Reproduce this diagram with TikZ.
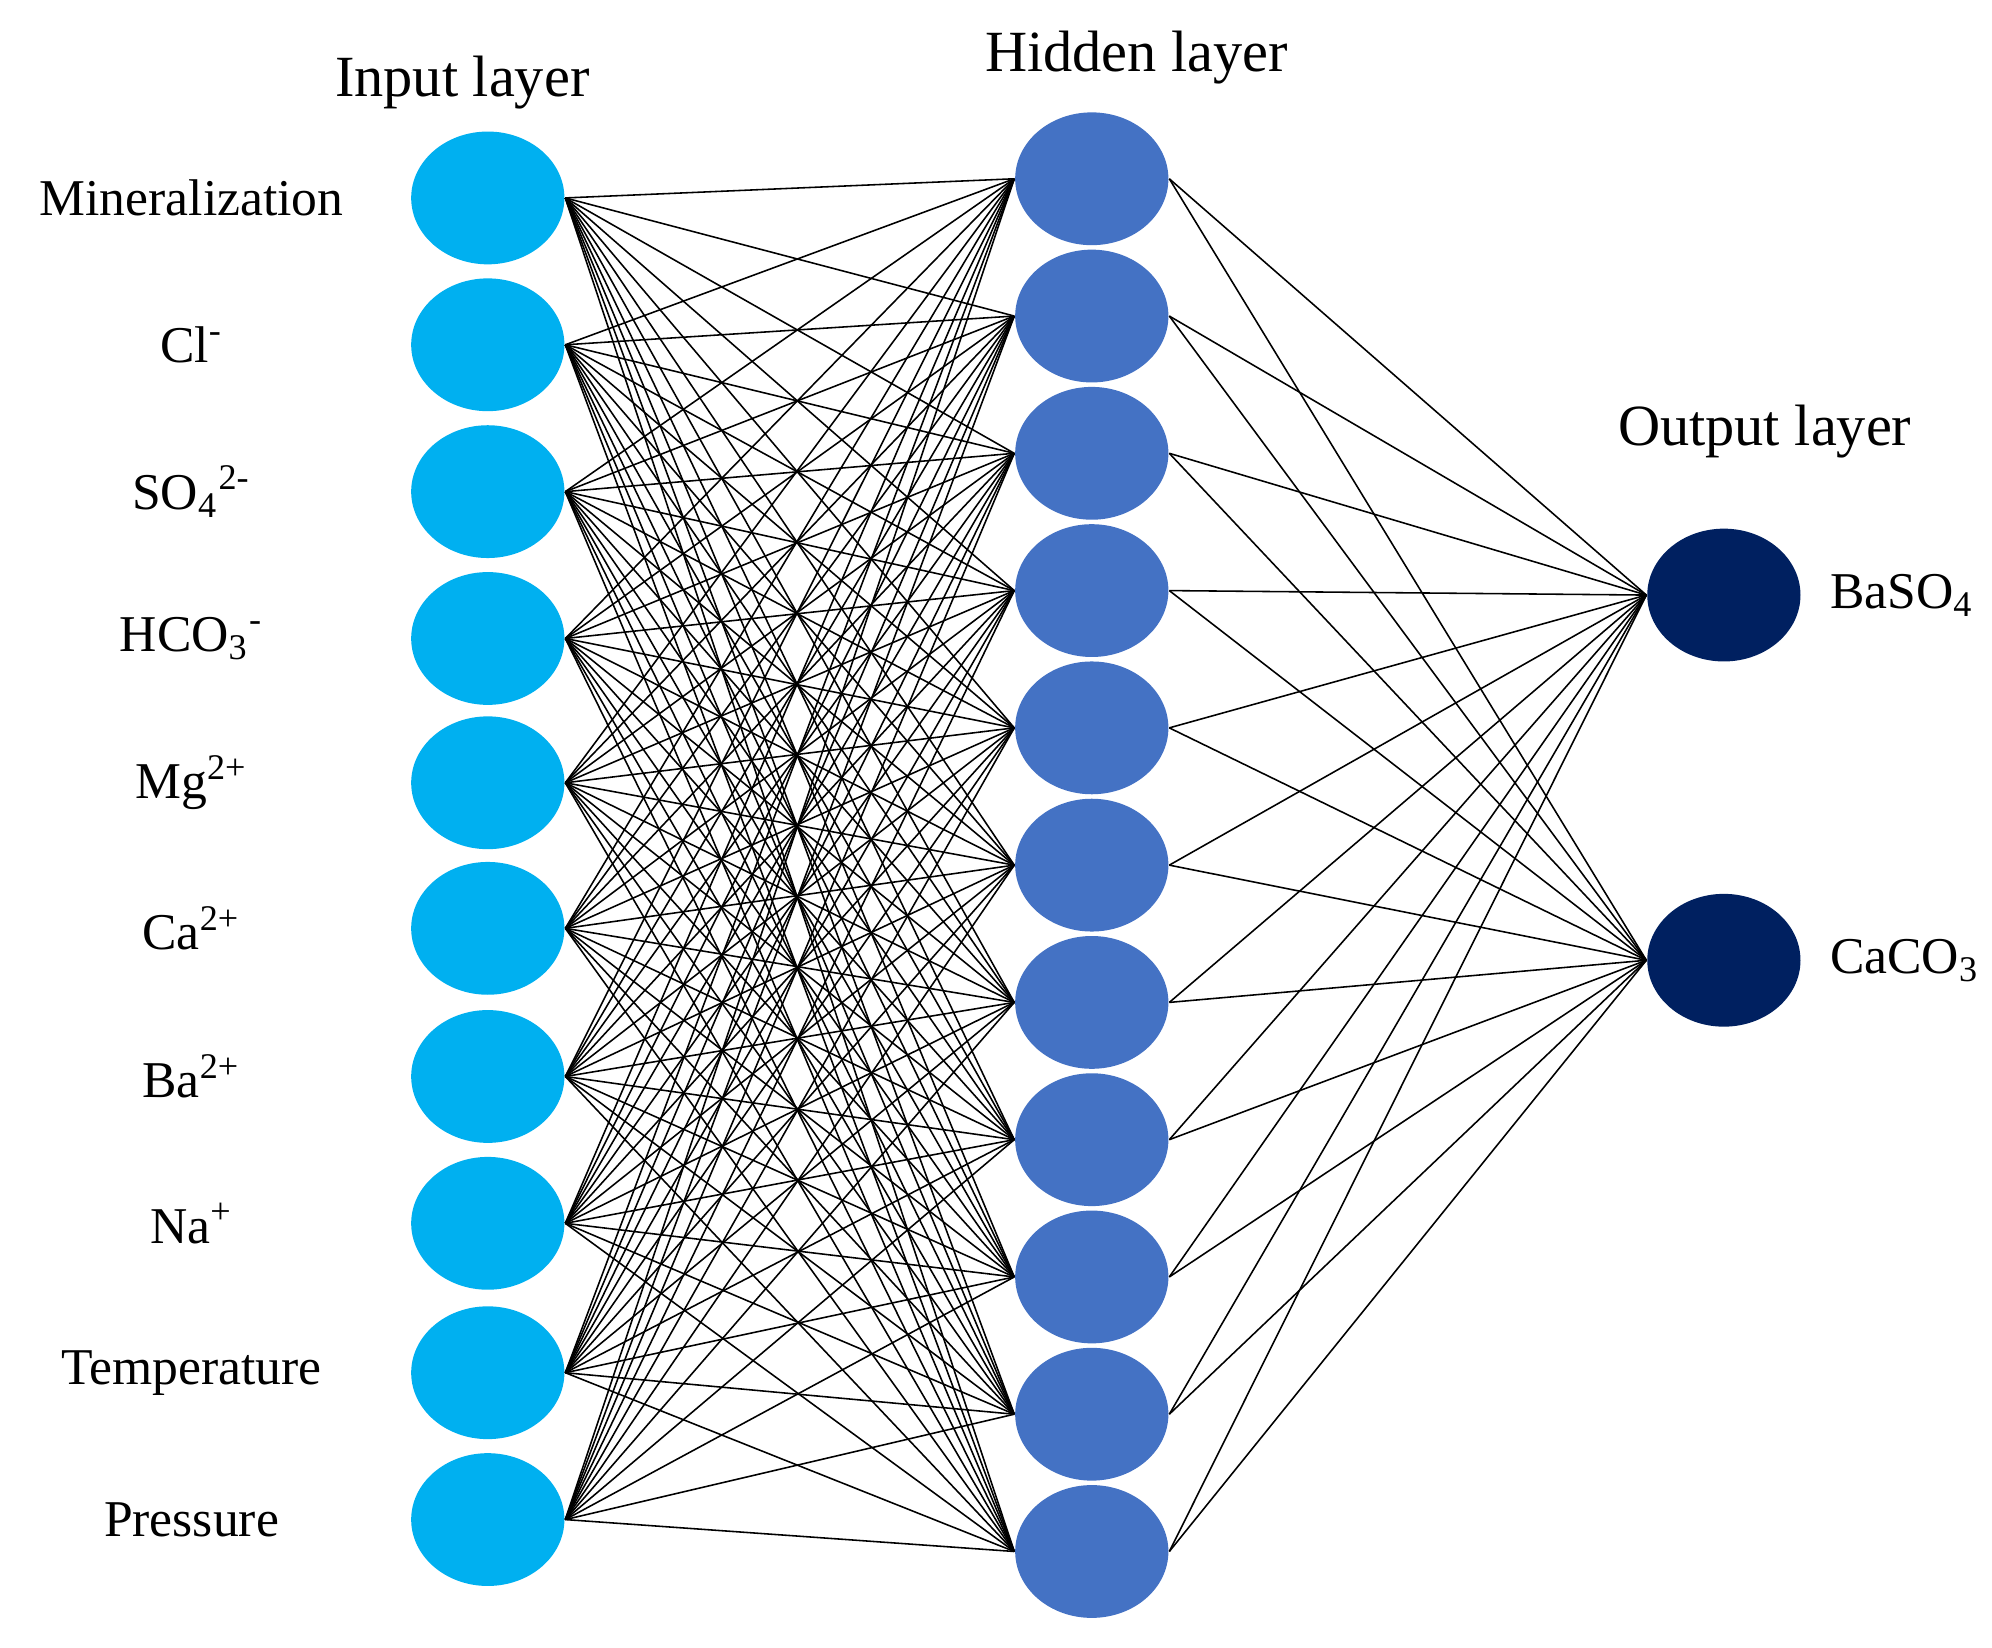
\documentclass[tikz,border=0pt]{standalone}
\usepackage{fontspec}
\setmainfont{Liberation Serif}
\usetikzlibrary{positioning,shapes.geometric}
\definecolor{inCol}{RGB}{0,176,240}
\definecolor{hidCol}{RGB}{68,114,196}
\definecolor{outCol}{RGB}{0,32,96}
\tikzset{
    neuron/.style={ellipse, minimum width=1.2cm, minimum height=1.04cm, inner sep=0pt},
    link/.style={black, line width=0.35pt},
    lbl/.style={font=\fontsize{11.5}{13}\selectfont},
    title/.style={font=\fontsize{13}{15}\selectfont}
}
\begin{document}
\begin{tikzpicture}
    \useasboundingbox (0,0) rectangle (15.6,-12.9);
    % input layer
    \foreach \name/\y [count=\k] in {Mineralization/1.55, Cl\textsuperscript{-}/2.70, SO\textsubscript{4}\textsuperscript{2-}/3.85, HCO\textsubscript{3}\textsuperscript{-}/5.00, Mg\textsuperscript{2+}/6.13, Ca\textsuperscript{2+}/7.27, Ba\textsuperscript{2+}/8.43, Na\textsuperscript{+}/9.58, Temperature/10.75, Pressure/11.90} {
        \node [neuron, fill=inCol] (in\k) at (3.82,-\y) {};
        \node [lbl] (lab\k) at (1.50,-\y) {\name};
    }
    % hidden layer
    \foreach \i in {0,...,10} {
        \node [neuron, fill=hidCol] (h\i) at (8.55,-1.40-1.075*\i) {};
    }
    % output layer
    \node [neuron, fill=outCol] (o1) at (13.50,-4.66) {};
    \node [neuron, fill=outCol] (o2) at (13.50,-7.52) {};
    \node [lbl, right=0.1cm of o1] (lo1) {BaSO\textsubscript{4}};
    \node [lbl, right=0.1cm of o2] (lo2) {CaCO\textsubscript{3}};
    % titles
    \node [title] (tin) at (3.62,-0.65) {Input layer};
    \node [title] (thid) at (8.90,-0.45) {Hidden layer};
    \node [title] (tout) at (13.82,-3.38) {Output layer};
    % connections
    \foreach \k in {1,...,10} {
        \foreach \i in {0,...,10} {
            \draw [link] (in\k.east) -- (h\i.west);
        }
    }
    \foreach \i in {0,...,10} {
        \draw [link] (h\i.east) -- (o1.west);
        \draw [link] (h\i.east) -- (o2.west);
    }
\end{tikzpicture}
\end{document}
